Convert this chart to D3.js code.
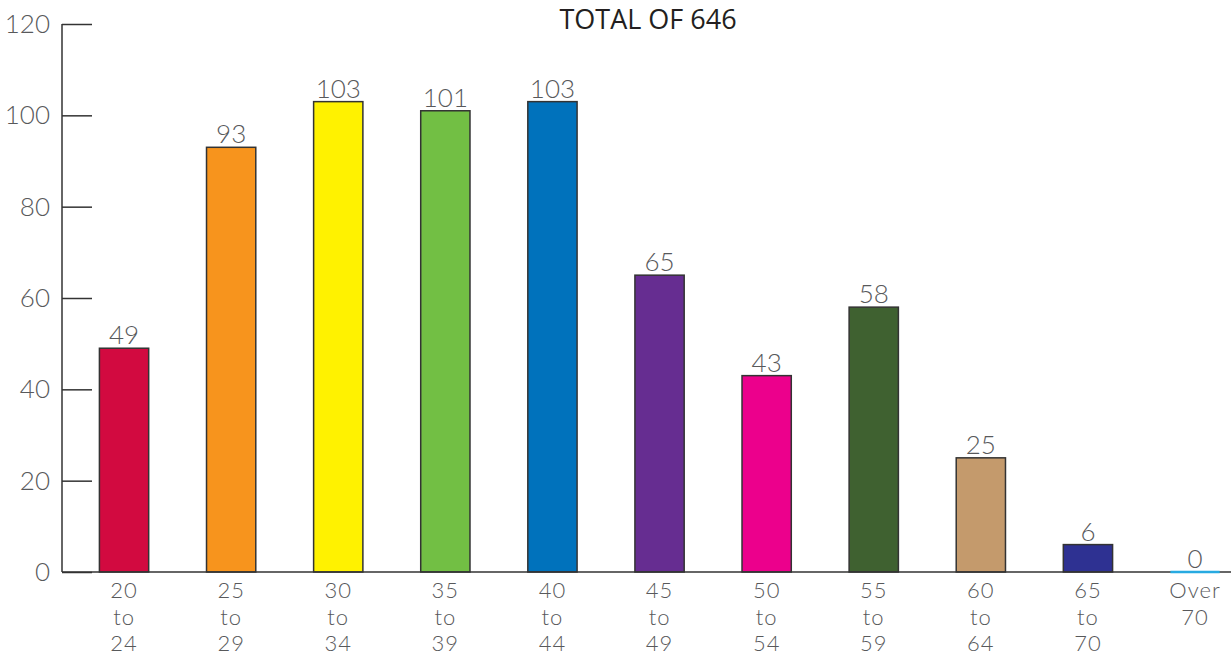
<!DOCTYPE html>
<html>
<head>
<meta charset="utf-8">
<script src="https://cdn.jsdelivr.net/npm/d3@7"></script>
<style>
  body { margin: 0; background: #fff; }
  text { font-family: Lato, "Open Sans", sans-serif; }
</style>
</head>
<body>
<div id="chart"></div>
<script>
var categories = [["20", "to", "24"], ["25", "to", "29"], ["30", "to", "34"], ["35", "to", "39"],
  ["40", "to", "44"], ["45", "to", "49"], ["50", "to", "54"], ["55", "to", "59"],
  ["60", "to", "64"], ["65", "to", "70"], ["Over", "70"]];
var counts = [49, 93, 103, 101, 103, 65, 43, 58, 25, 6, 0];
var colors = ["#d20a40", "#f7941d", "#fff200", "#72bf44", "#0072bc", "#662d91",
  "#ec008c", "#3f6130", "#c49a6c", "#2e3192", "#27aae1"];
var yTicks = [0, 20, 40, 60, 80, 100, 120];
var title = "TOTAL OF 646";

var width = 1231, height = 658;
var x0 = 62, yBottom = 572, yTop = 24;

var svg = d3.select("#chart").append("svg")
  .attr("width", width)
  .attr("height", height);

var x = d3.scaleBand()
  .domain(d3.range(categories.length))
  .range([70.5, 70.5 + 107.1 * categories.length])
  .paddingInner(0.54)
  .paddingOuter(0.27);

var y = d3.scaleLinear()
  .domain([0, 120])
  .range([yBottom, yTop]);

// title
svg.append("text")
  .attr("x", 648)
  .attr("y", 29)
  .attr("text-anchor", "middle")
  .attr("fill", "#231f20")
  .style("font-family", "'Open Sans', Lato, sans-serif")
  .style("font-size", "27px")
  .style("font-weight", 400)
  .text(title);

// y axis
var yAxis = d3.axisRight(y)
  .tickValues(yTicks)
  .tickSize(30)
  .tickFormat("");

var gy = svg.append("g")
  .attr("transform", "translate(" + x0 + ",0)")
  .call(yAxis);
gy.select(".domain").remove();
gy.selectAll(".tick line").attr("stroke", "#333").attr("stroke-width", 1.5);

svg.append("line")
  .attr("x1", x0).attr("x2", x0)
  .attr("y1", y(120)).attr("y2", yBottom)
  .attr("stroke", "#333").attr("stroke-width", 1.5);

svg.selectAll(".ylab")
  .data(yTicks)
  .enter().append("text")
  .attr("class", "ylab")
  .attr("x", 50)
  .attr("y", function (d) { return y(d) + 9; })
  .attr("text-anchor", "end")
  .attr("fill", "#58595b")
  .style("font-size", "26px")
  .style("font-weight", 300)
  .text(function (d) { return d; });

// bars
svg.selectAll(".bar")
  .data(counts)
  .enter().append("rect")
  .attr("class", "bar")
  .attr("x", function (d, i) { return x(i); })
  .attr("width", x.bandwidth())
  .attr("y", function (d) { return y(d); })
  .attr("height", function (d) { return yBottom - y(d); })
  .attr("fill", function (d, i) { return colors[i]; })
  .attr("stroke", function (d) { return d > 0 ? "#333" : "none"; })
  .attr("stroke-width", 1.5);

// x axis line
svg.append("line")
  .attr("x1", x0).attr("x2", width)
  .attr("y1", yBottom).attr("y2", yBottom)
  .attr("stroke", "#333").attr("stroke-width", 1.5);

// zero-height bars shown as a coloured line on the axis
var zi = counts.indexOf(0);
svg.append("line")
  .attr("x1", x(zi))
  .attr("x2", x(zi) + x.bandwidth())
  .attr("y1", yBottom).attr("y2", yBottom)
  .attr("stroke", colors[zi])
  .attr("stroke-width", 2.5);

// value labels
svg.selectAll(".bartext")
  .data(counts)
  .enter().append("text")
  .attr("class", "bartext")
  .attr("x", function (d, i) { return x(i) + x.bandwidth() / 2; })
  .attr("y", function (d) { return y(d) - 4; })
  .attr("text-anchor", "middle")
  .attr("fill", "#58595b")
  .style("font-size", "26px")
  .style("font-weight", 300)
  .text(function (d) { return d; });

// category labels, one text per line
categories.forEach(function (lines, i) {
  svg.selectAll(".cat" + i)
    .data(lines)
    .enter().append("text")
    .attr("class", "cat cat" + i)
    .attr("x", x(i) + x.bandwidth() / 2)
    .attr("y", function (d, j) { return 598 + j * 26.5; })
    .attr("text-anchor", "middle")
    .attr("fill", "#58595b")
    .style("font-size", "22px")
    .style("letter-spacing", "1px")
    .style("font-weight", 300)
    .text(function (d) { return d; });
});
</script>
</body>
</html>
